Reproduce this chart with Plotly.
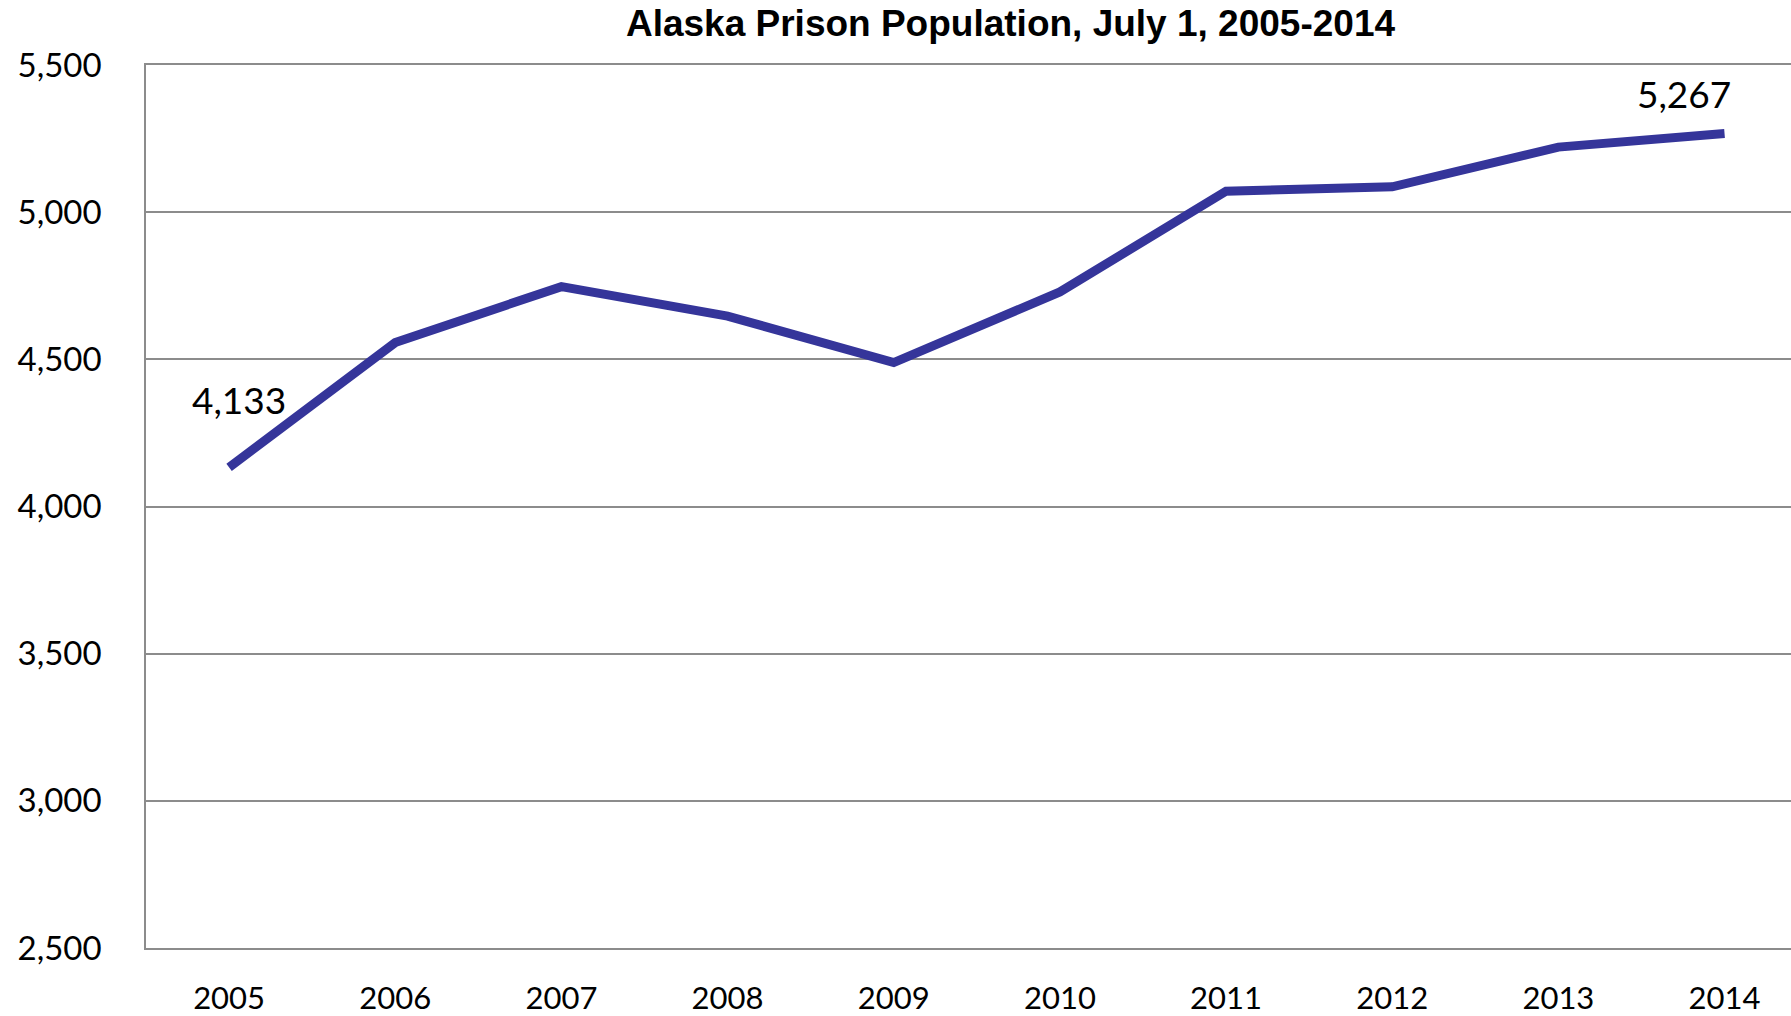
import plotly.graph_objects as go

years = [2005, 2006, 2007, 2008, 2009, 2010, 2011, 2012, 2013, 2014]
population = [4133, 4557, 4747, 4647, 4489, 4729, 5071, 5086, 5221, 5267]
y_ticks = [2500, 3000, 3500, 4000, 4500, 5000, 5500]
title_text = "Alaska Prison Population, July 1, 2005-2014"

W, H = 1791, 1016
grid_col = "#8c8c8c"
line_col = "#35359a"
x_tick_font = dict(family="Lato", size=31, color="#000000")
y_tick_font = dict(family="Lato", size=33, color="#000000")
label_font = dict(family="Lato", size=37, color="#000000")

fig = go.Figure()
fig.add_trace(go.Scatter(
    x=years, y=population, mode="lines",
    line=dict(color=line_col, width=9),
    hoverinfo="x+y", showlegend=False,
))

# data labels on first and last points
fig.add_annotation(x=years[0], y=population[0], xref="x", yref="y",
                   text=f"{population[0]:,}", showarrow=False,
                   xshift=10, yshift=68, font=label_font)
fig.add_annotation(x=years[-1], y=population[-1], xref="x", yref="y",
                   text=f"{population[-1]:,}", showarrow=False,
                   xshift=-41, yshift=40, font=label_font)

fig.update_layout(
    width=W, height=H,
    margin=dict(l=146, r=0, t=65, b=58, pad=0),
    paper_bgcolor="white", plot_bgcolor="white",
    title=dict(text=title_text, x=1010.5 / W, xref="container", xanchor="center",
               y=1 - 23 / H, yref="container", yanchor="middle",
               font=dict(family="Liberation Sans", size=37, color="#000000", weight="bold")),
    xaxis=dict(
        range=[years[0] - 0.5, years[-1] + 0.4],
        tickmode="array", tickvals=years, ticktext=[str(y) for y in years],
        showgrid=False, zeroline=False,
        showline=True, mirror=True, linecolor=grid_col, linewidth=1.5,
        ticks="", ticklabelstandoff=22, tickfont=x_tick_font,
    ),
    yaxis=dict(
        range=[y_ticks[0], y_ticks[-1]],
        tickmode="array", tickvals=y_ticks,
        ticktext=[f"{v:,}" for v in y_ticks],
        showgrid=True, gridcolor=grid_col, gridwidth=1.5,
        zeroline=False, showline=True, linecolor=grid_col, linewidth=1.5,
        ticks="", ticklabelstandoff=36, tickfont=y_tick_font,
    ),
)

fig.write_html(
    "out.html",
    config={"displayModeBar": False},
    post_script="document.body.style.margin='0';document.body.style.overflow='hidden';",
)
